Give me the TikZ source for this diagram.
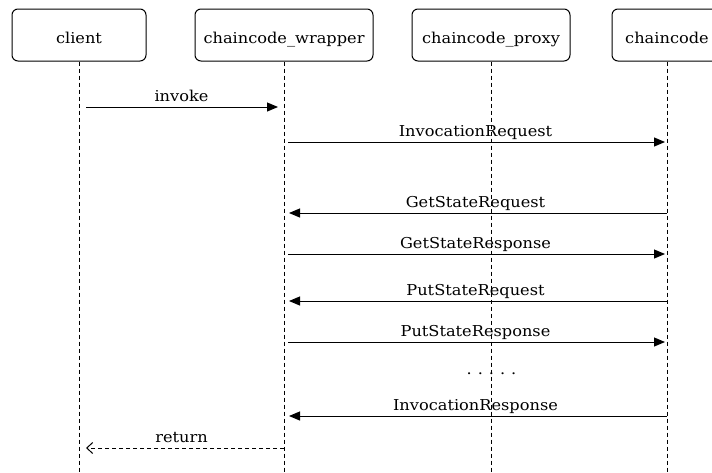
\documentclass[tikz,border=0pt]{standalone}
\usepackage{fontspec}
\setmainfont[FakeStretch=1.08]{DejaVu Serif}
\usetikzlibrary{arrows.meta}
\begin{document}
\begin{tikzpicture}[x=1pt,y=-1pt,
  head/.style={draw, rounded corners=6pt, line width=1pt, minimum height=52pt, inner sep=0pt,
    text height=18pt, text depth=2pt, font=\fontsize{15}{17}\selectfont},
  life/.style={dash pattern=on 4pt off 3pt, line width=1pt},
  msg/.style={line width=1pt, -{Triangle[length=11pt,width=9pt]}},
  ret/.style={line width=1pt, dash pattern=on 4pt off 3pt, -{Straight Barb[length=6pt,width=11pt]}},
  lbl/.style={font=\fontsize{15}{17}\selectfont, inner sep=0pt, anchor=base, yshift=5.5pt}]
\useasboundingbox (0,0) rectangle (712,472);
% heads
\node[head, minimum width=134pt] (client) at (79,35) {client};
\node[head, minimum width=178pt] (wrapper) at (284,35) {chaincode\_wrapper};
\node[head, minimum width=158pt] (proxy) at (491,35) {chaincode\_proxy};
\node[head, minimum width=110pt] (cc) at (667,35) {chaincode};
% lifeline ends
\coordinate (clientE) at (79,472);
\coordinate (wrapperE) at (284,472);
\coordinate (proxyE) at (491,472);
\coordinate (ccE) at (667,472);
\draw[life] (client.south) -- (clientE);
\draw[life] (wrapper.south) -- (wrapperE);
\draw[life] (proxy.south) -- (proxyE);
\draw[life] (cc.south) -- (ccE);
% message anchors
\foreach \n/\y in {1/107,2/142,3/213,4/254,5/301,6/342,7/416,8/448}{
  \coordinate (c\n) at (79,\y);
  \coordinate (w\n) at (284,\y);
  \coordinate (k\n) at (667,\y);
}
\draw[msg, shorten <=7pt, shorten >=6pt] (c1) -- (w1) node[lbl, midway] {invoke};
\draw[msg, shorten <=4pt, shorten >=2pt] (w2) -- (k2) node[lbl, midway] {InvocationRequest};
\draw[msg, shorten >=5pt] (k3) -- (w3) node[lbl, midway] {GetStateRequest};
\draw[msg, shorten <=4pt, shorten >=2pt] (w4) -- (k4) node[lbl, midway] {GetStateResponse};
\draw[msg, shorten >=5pt] (k5) -- (w5) node[lbl, midway] {PutStateRequest};
\draw[msg, shorten <=4pt, shorten >=2pt] (w6) -- (k6) node[lbl, midway] {PutStateResponse};
\node[lbl, yshift=-5.5pt] (dots) at (491.5,374) {.\hspace{6pt}.\hspace{6pt}.\hspace{6pt}.\hspace{6pt}.};
\draw[msg, shorten >=5pt] (k7) -- (w7) node[lbl, midway] {InvocationResponse};
\draw[ret, shorten >=7pt] (w8) -- (c8) node[lbl, midway] {return};
\end{tikzpicture}
\end{document}
